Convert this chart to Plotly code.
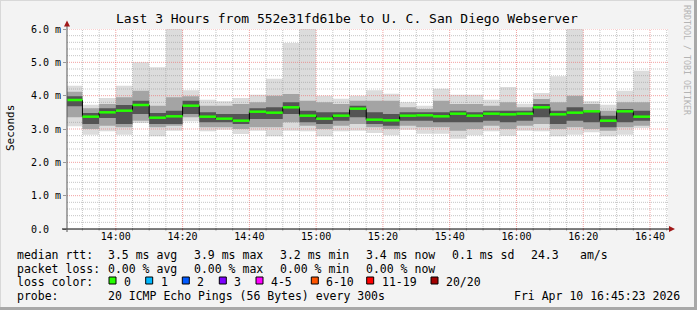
import plotly.graph_objects as go
import pandas as pd

# ---------------- data ----------------
DAY = "2026-04-10"
slot_start = ["13:45", "13:50", "13:55", "14:00", "14:05", "14:10", "14:15",
              "14:20", "14:25", "14:30", "14:35", "14:40", "14:45", "14:50",
              "14:55", "15:00", "15:05", "15:10", "15:15", "15:20", "15:25",
              "15:30", "15:35", "15:40", "15:45", "15:50", "15:55", "16:00",
              "16:05", "16:10", "16:15", "16:20", "16:25", "16:30", "16:35"]
# smoke envelope (ms): max / min of the 20 pings
rtt_max = [4.30, 3.73, 3.93, 4.30, 5.00, 4.85, 6.50, 4.16, 3.88, 3.83, 3.93, 4.03,
           4.51, 5.58, 6.80, 4.00, 3.91, 4.00, 4.16, 4.06, 3.80, 3.70, 4.21, 4.03,
           4.03, 3.88, 4.26, 3.76, 4.08, 4.58, 7.20, 3.83, 3.73, 4.15, 4.75]
rtt_min = [3.08, 2.83, 2.93, 2.83, 3.18, 2.78, 2.95, 3.23, 2.93, 2.98, 2.85, 2.95,
           2.78, 2.95, 2.93, 2.78, 2.93, 2.95, 2.88, 2.81, 2.98, 2.86, 2.86, 2.71,
           2.81, 2.93, 2.80, 2.95, 2.93, 2.78, 2.83, 2.90, 2.78, 2.83, 3.03]
# middle smoke band
mid_hi = [4.12, 3.62, 3.75, 3.95, 4.15, 3.70, 3.95, 3.98, 3.70, 3.70, 3.75, 3.80,
          4.00, 4.05, 3.85, 3.80, 3.75, 3.85, 3.85, 3.85, 3.65, 3.60, 3.85, 3.75,
          3.75, 3.70, 3.80, 3.65, 3.90, 3.80, 4.00, 3.75, 3.55, 3.80, 3.80]
mid_lo = [3.35, 3.00, 3.10, 3.05, 3.25, 3.05, 3.10, 3.35, 3.05, 3.05, 3.00, 3.05,
          3.05, 3.20, 3.10, 3.00, 3.10, 3.15, 3.05, 3.00, 3.10, 3.05, 3.05, 2.95,
          3.00, 3.10, 3.00, 3.10, 3.15, 3.00, 3.05, 3.00, 2.95, 3.05, 3.10]
# dark core band
core_hi = [3.98, 3.48, 3.62, 3.72, 3.85, 3.48, 3.55, 3.85, 3.50, 3.45, 3.45, 3.62,
           3.65, 3.80, 3.55, 3.50, 3.50, 3.70, 3.50, 3.45, 3.50, 3.50, 3.50, 3.55,
           3.50, 3.55, 3.55, 3.55, 3.75, 3.55, 3.65, 3.55, 3.40, 3.60, 3.55]
core_lo = [3.68, 3.15, 3.33, 3.15, 3.45, 3.15, 3.15, 3.45, 3.20, 3.20, 3.15, 3.30,
           3.30, 3.45, 3.20, 3.15, 3.25, 3.35, 3.15, 3.10, 3.25, 3.25, 3.20, 3.20,
           3.20, 3.25, 3.20, 3.25, 3.35, 3.15, 3.25, 3.20, 3.05, 3.20, 3.25]
median = [3.87, 3.37, 3.50, 3.55, 3.72, 3.34, 3.38, 3.70, 3.37, 3.31, 3.25, 3.52,
          3.49, 3.65, 3.40, 3.31, 3.40, 3.61, 3.28, 3.26, 3.40, 3.41, 3.38, 3.46,
          3.40, 3.46, 3.44, 3.46, 3.65, 3.44, 3.49, 3.53, 3.25, 3.53, 3.37]

y_ticks = [0, 1, 2, 3, 4, 5, 6]
y_ticktext = ["0.0\u00a0\u00a0", "1.0 m", "2.0 m", "3.0 m", "4.0 m", "5.0 m", "6.0 m"]
x_ticks = ["14:00", "14:20", "14:40", "15:00", "15:20", "15:40", "16:00", "16:20", "16:40"]

title = "Last 3 Hours from 552e31fd61be to U. C. San Diego Webserver"
rtt_items = ["3.5 ms avg", "3.9 ms max", "3.2 ms min", "3.4 ms now", "0.1 ms sd", "24.3", "am/s"]
loss_items = ["0.00 % avg", "0.00 % max", "0.00 % min", "0.00 % now"]
loss_labels = ["0", "1", "2", "3", "4-5", "6-10", "11-19", "20/20"]
loss_colors = ["#26ff00", "#00b8ff", "#0059ff", "#7e00ff", "#ff00ff", "#ff5500", "#ff0000", "#a10000"]
probe_text = "20 ICMP Echo Pings (56 Bytes) every 300s"
stamp_text = "Fri Apr 10 16:45:23 2026"

# ---------------- geometry ----------------
W, H = 697, 310
L, R, T, B = 67, 668, 29, 229          # plot area in pixels
FONT = "DejaVu Sans Mono"
GRID_MINOR = "rgba(150,150,150,0.55)"
GRID_MAJOR = "rgba(235,110,110,0.65)"


def px(xp):
    return (xp - L) / (R - L)


def py(yp):
    return (B - yp) / (B - T)


starts = pd.to_datetime([f"{DAY} {s}" for s in slot_start])
step = pd.Timedelta(minutes=5)
ends = starts + step
x0 = pd.Timestamp(f"{DAY} 13:45:23")
x1 = pd.Timestamp(f"{DAY} 16:45:23")

fig = go.Figure()


def band(lo, hi, color):
    # one filled rectangle per 5-minute slot (scatter fill keeps trace order with the grid)
    xs, ys = [], []
    for s, e, a, b in zip(starts, ends, lo, hi):
        xs += [s, e, e, s, s, None]
        ys += [a, a, b, b, a, None]
    fig.add_trace(go.Scatter(x=xs, y=ys, mode="lines", fill="toself", fillcolor=color,
                             line=dict(width=0, color=color), hoverinfo="skip", showlegend=False))


def grid_trace(xs, ys, color):
    fig.add_trace(go.Scatter(x=xs, y=ys, mode="lines",
                             line=dict(color=color, width=1, dash="1px,1px"),
                             hoverinfo="skip", showlegend=False))


# outer (light) smoke
band(rtt_min, rtt_max, "#dcdcdc")

# grid: visible over the light smoke, hidden by the denser smoke
hx_min, hy_min, hx_maj, hy_maj = [], [], [], []
for k in range(1, 31):
    v = k * 0.2
    if k % 5 == 0:
        hx_maj += [x0, x1, None]; hy_maj += [v, v, None]
    else:
        hx_min += [x0, x1, None]; hy_min += [v, v, None]
vx_min, vy_min, vx_maj, vy_maj = [], [], [], []
t = pd.Timestamp(f"{DAY} 13:50")
while t <= x1:
    if t.minute % 20 == 0:
        vx_maj += [t, t, None]; vy_maj += [0, 6, None]
    else:
        vx_min += [t, t, None]; vy_min += [0, 6, None]
    t += step
grid_trace(hx_min, hy_min, GRID_MINOR)
grid_trace(vx_min, vy_min, GRID_MINOR)
grid_trace(hx_maj, hy_maj, GRID_MAJOR)
grid_trace(vx_maj, vy_maj, GRID_MAJOR)

# inner smoke
band(mid_lo, mid_hi, "#a4a4a4")
band(core_lo, core_hi, "#545454")

# median: black vertical connectors between slots + green level segments
cx, cy = [], []
for i in range(1, len(median)):
    cx += [starts[i], starts[i], None]
    cy += [median[i - 1], median[i], None]
fig.add_trace(go.Scatter(x=cx, y=cy, mode="lines", line=dict(color="#000000", width=1),
                         hoverinfo="skip", showlegend=False))
gx, gy = [], []
for s, e, m in zip(starts, ends, median):
    gx += [s, e, None]
    gy += [m, m, None]
fig.add_trace(go.Scatter(x=gx, y=gy, mode="lines", line=dict(color="#26ff00", width=2.5),
                         hoverinfo="skip", showlegend=False))

shapes = []
# small grid ticks below the x axis
t = pd.Timestamp(f"{DAY} 13:50")
while t <= x1:
    shapes.append(dict(type="line", xref="x", yref="paper", x0=t, x1=t, y0=py(231), y1=0,
                       line=dict(color=GRID_MAJOR if t.minute % 20 == 0 else GRID_MINOR, width=1)))
    t += step
# axes lines and arrows
shapes.append(dict(type="line", xref="paper", yref="paper", x0=px(62), x1=px(670), y0=0, y1=0,
                   layer="above", line=dict(color="#000000", width=1)))
shapes.append(dict(type="line", xref="paper", yref="paper", x0=0, x1=0, y0=py(232), y1=py(25),
                   layer="above", line=dict(color="#555555", width=1)))
shapes.append(dict(type="path", xref="paper", yref="paper",
                   path=f"M {px(64)} {py(26.5)} L {px(70)} {py(26.5)} L {px(67)} {py(20.5)} Z",
                   fillcolor="#a01818", line=dict(width=0), layer="above"))
shapes.append(dict(type="path", xref="paper", yref="paper",
                   path=f"M {px(669)} {py(226)} L {px(669)} {py(232)} L {px(675)} {py(229)} Z",
                   fillcolor="#a01818", line=dict(width=0), layer="above"))
# frame
shapes.append(dict(type="line", xref="paper", yref="paper", x0=px(0), x1=px(697), y0=py(0.5), y1=py(0.5),
                   line=dict(color="#d8d8d8", width=1)))
shapes.append(dict(type="line", xref="paper", yref="paper", x0=px(0.5), x1=px(0.5), y0=py(0), y1=py(310),
                   line=dict(color="#d8d8d8", width=1)))
shapes.append(dict(type="line", xref="paper", yref="paper", x0=px(0), x1=px(697), y0=py(308.5), y1=py(308.5),
                   line=dict(color="#a8a8a8", width=3)))
shapes.append(dict(type="line", xref="paper", yref="paper", x0=px(695.5), x1=px(695.5), y0=py(0), y1=py(310),
                   line=dict(color="#a8a8a8", width=3)))

ann = []


def text(xp, yp, s, anchor="left", size=11.5, color="#000000", angle=0):
    ann.append(dict(x=px(xp), y=py(yp), xref="paper", yref="paper", text=s, showarrow=False,
                    xanchor=anchor, yanchor="middle", textangle=angle,
                    font=dict(family=FONT, size=size, color=color)))


text(347, 18, title, anchor="center", size=13)
text(10, 128, "Seconds", anchor="center", size=11, angle=-90)
text(687, 60, "RRDTOOL / TOBI OETIKER", anchor="center", size=8.3, color="#b4b4b4", angle=90)

row_y = [254.5, 268.5, 281.5, 295.5]
col_x = [107, 193, 279, 365, 451, 530, 579]
text(15, row_y[0], "median rtt:")
for s, xx in zip(rtt_items, col_x):
    text(xx - 1, row_y[0], s)
text(15, row_y[1], "packet loss:")
for s, xx in zip(loss_items, col_x):
    text(xx - 1, row_y[1], s)
text(15, row_y[2], "loss color:")
box_x = [109, 145.7, 182.3, 219.3, 256, 311.3, 366.7, 431]
for lab, col, bx in zip(loss_labels, loss_colors, box_x):
    shapes.append(dict(type="rect", xref="paper", yref="paper", x0=px(bx), x1=px(bx + 7),
                       y0=py(277), y1=py(284), fillcolor=col, line=dict(color="#000000", width=1)))
    text(bx + 13, row_y[2], lab)
text(15, row_y[3], "probe:")
text(106, row_y[3], probe_text)
text(682, row_y[3], stamp_text, anchor="right")

fig.update_layout(
    width=W, height=H,
    margin=dict(l=L, r=W - R, t=T, b=H - B, pad=0),
    paper_bgcolor="#f3f3f3", plot_bgcolor="#ffffff",
    shapes=shapes, annotations=ann,
    font=dict(family=FONT, size=10, color="#000000"),
    xaxis=dict(type="date", range=[x0, x1], showgrid=False, zeroline=False, showline=False,
               tickmode="array", tickvals=[pd.Timestamp(f"{DAY} {s}") for s in x_ticks],
               ticktext=x_ticks, ticks="", tickfont=dict(family=FONT, size=10)),
    yaxis=dict(range=[0, 6], showgrid=False, zeroline=False, showline=False,
               tickmode="array", tickvals=y_ticks, ticktext=y_ticktext,
               ticks="outside", ticklen=3, tickcolor="#999999",
               tickfont=dict(family=FONT, size=10)),
)

fig.write_html("out.html")
